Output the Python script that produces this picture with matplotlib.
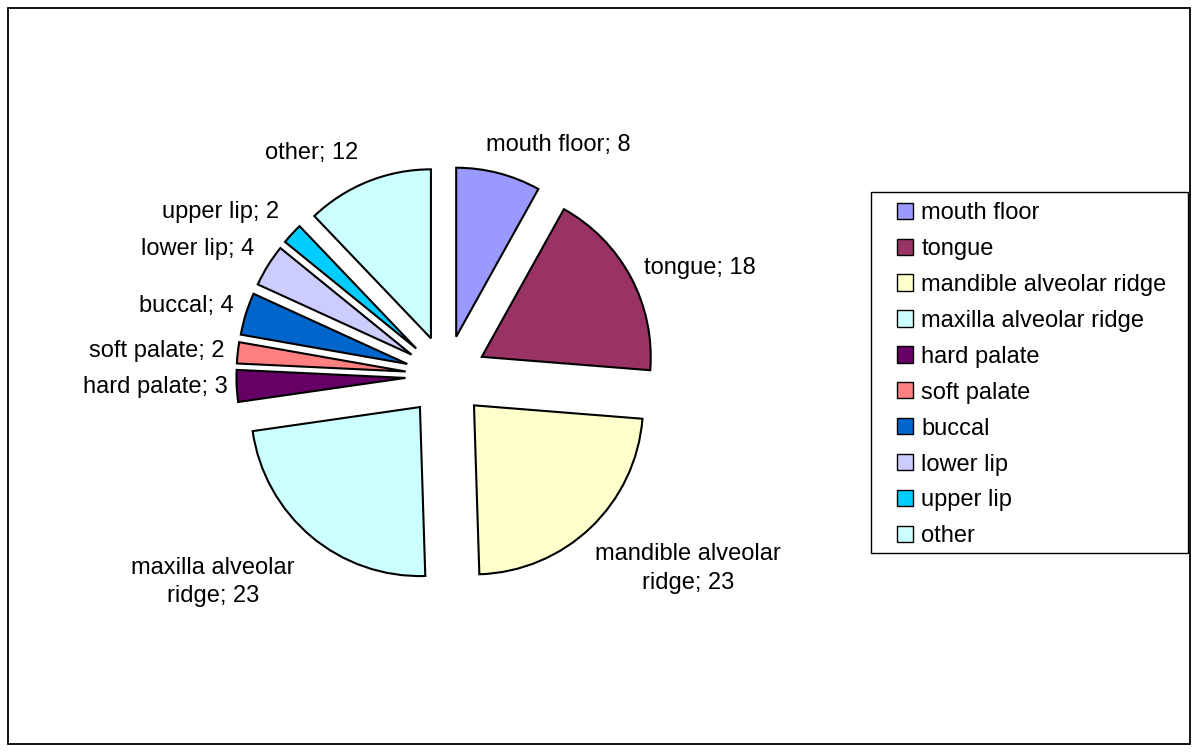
import matplotlib.pyplot as plt
import numpy as np
from matplotlib.patches import Patch, Rectangle

plt.rcParams['font.family'] = ['Liberation Sans', 'DejaVu Sans']

sites = ['mouth floor', 'tongue', 'mandible alveolar ridge', 'maxilla alveolar ridge',
         'hard palate', 'soft palate', 'buccal', 'lower lip', 'upper lip', 'other']
counts = [8, 18, 23, 23, 3, 2, 4, 4, 2, 12]
colors = ['#9999FF', '#993366', '#FFFFCC', '#CCFFFF', '#660066',
          '#FF8080', '#0066CC', '#CCCCFF', '#00CCFF', '#CCFFFF']
# label text shown next to slices (the two long ones wrap)
slice_labels = ['mouth floor; 8', 'tongue; 18', 'mandible alveolar\nridge; 23',
                'maxilla alveolar\nridge; 23', 'hard palate; 3', 'soft palate; 2',
                'buccal; 4', 'lower lip; 4', 'upper lip; 2', 'other; 12']

# label placement: angle clockwise from 12 o'clock and distance (in radii) from pie centre
label_angle = [25.9, 67, 128.4, 228.5, 267.8, 275, 285, 297, 306, 329]
label_rad = [1.52, 1.63, 1.83, 1.84, 1.72, 1.72, 1.59, 1.65, 1.65, 1.54]

W, H = 1200, 755
fig = plt.figure(figsize=(W / 100, H / 100), dpi=100)

# pie centre and radius in pixels
cx, cy, r = 446, 376, 169
ax = fig.add_axes([0, 0, 1, 1])

wedges, texts = ax.pie(counts, colors=colors, explode=[0.24] * len(counts),
                       startangle=90, counterclock=False, radius=1,
                       labels=slice_labels,
                       wedgeprops=dict(edgecolor='black', linewidth=1.5),
                       textprops=dict(fontsize=17))
ax.set_aspect('auto')
ax.set_xlim(-cx / r, (W - cx) / r)
ax.set_ylim((cy - H) / r, cy / r)
ax.axis('off')

for t, a, d in zip(texts, label_angle, label_rad):
    a = np.deg2rad(a)
    t.set_position((d * np.sin(a), d * np.cos(a)))
    t.set_ha('center')
    t.set_va('center')
    t.set_multialignment('center')
    t.set_linespacing(1.4)

handles = [Patch(facecolor=c, edgecolor='black', linewidth=1.0) for c in colors]
leg = fig.legend(handles, sites, loc='upper left',
                 bbox_to_anchor=(897 / W, 1 - 202 / H), fontsize=17,
                 frameon=False, handlelength=0.68, handleheight=0.68,
                 handletextpad=0.35, labelspacing=0.59, borderpad=0, borderaxespad=0)

# legend box and outer chart border
fig.patches.append(Rectangle((871 / W, 1 - 553 / H), 317 / W, 361 / H, transform=fig.transFigure,
                             fill=False, edgecolor='black', linewidth=1.0))
fig.patches.append(Rectangle((8 / W, 11 / H), 1182 / W, 736 / H, transform=fig.transFigure,
                             fill=False, edgecolor='black', linewidth=1.3))

fig.savefig('out.png', dpi=100)
